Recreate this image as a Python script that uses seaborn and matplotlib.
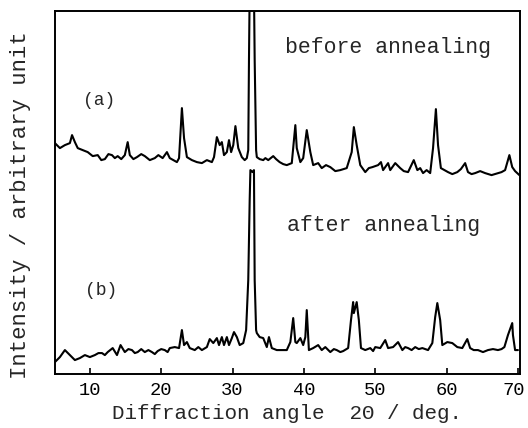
"""XRD patterns before / after annealing, redrawn from a scanned figure."""

import matplotlib
matplotlib.use("Agg")
import matplotlib.pyplot as plt
import matplotlib.transforms as mtransforms
import pandas as pd
import seaborn as sns

# ── Data (2θ in deg., intensity in arbitrary units) ──
angle_a = [5.1, 5.8, 6.5, 7.2, 7.5, 7.9, 8.3, 9.0, 9.7, 10.4, 11.1, 11.6, 12.1, 12.6,
           13.1, 13.5, 13.9, 14.4, 14.9, 15.3, 15.6, 16.1, 16.6, 17.2, 17.7, 18.4,
           19.1, 19.6, 20.2, 20.8, 21.2, 21.7, 22.2, 22.5, 22.9, 23.2, 23.6, 24.3,
           25.0, 25.7, 26.4, 27.1, 27.4, 27.8, 28.2, 28.5, 28.8, 29.2, 29.5, 29.8,
           30.1, 30.4, 30.8, 31.3, 31.7, 32.0, 32.2, 32.3, 32.4, 33.0, 33.1, 33.3,
           33.4, 33.8, 34.3, 34.6, 35.0, 35.7, 36.1, 36.6, 37.1, 37.6, 38.3, 38.8,
           39.0, 39.5, 39.9, 40.4, 40.9, 41.3, 42.0, 42.5, 43.1, 43.7, 44.4, 45.1,
           46.0, 46.7, 47.0, 47.4, 47.9, 48.6, 49.1, 49.6, 50.4, 50.8, 51.1, 51.8,
           52.1, 52.8, 53.5, 54.0, 54.6, 55.4, 55.9, 56.3, 56.7, 57.2, 57.7, 58.1,
           58.5, 58.8, 59.2, 59.7, 60.2, 60.8, 61.5, 62.0, 62.6, 63.0, 63.5, 64.0,
           64.7, 65.4, 66.3, 67.2, 67.7, 68.2, 68.8, 69.2, 69.6, 69.9, 70.2]
inten_a = [231, 226, 229, 231, 239, 232, 226, 224, 222, 218, 219, 214, 215, 220,
           219, 216, 218, 215, 219, 232, 219, 215, 217, 220, 218, 214,
           216, 219, 216, 222, 216, 214, 212, 216, 266, 236, 217, 214,
           212, 211, 214, 212, 217, 237, 229, 232, 219, 222, 234, 222,
           229, 248, 226, 217, 214, 216, 224, 314, 384, 384, 314, 224,
           217, 215, 214, 216, 214, 218, 215, 212, 210, 209, 211, 249,
           226, 212, 216, 244, 222, 209, 211, 206, 209, 207, 203, 204,
           206, 222, 247, 229, 209, 202, 206, 207, 209, 212, 204, 211,
           204, 211, 206, 203, 202, 214, 204, 206, 201, 204, 201, 226,
           265, 229, 206, 204, 202, 200, 202, 205, 211, 202, 200, 201,
           203, 201, 199, 201, 202, 204, 219, 207, 203, 201, 199]

angle_b = [5.1, 5.8, 6.5, 7.2, 7.9, 8.6, 9.3, 10.0, 10.7, 11.2, 11.7, 12.1, 12.5,
           13.2, 13.8, 14.3, 14.9, 15.4, 15.9, 16.3, 16.7, 17.2, 17.7, 18.2, 18.7,
           19.1, 19.5, 20.0, 20.5, 20.9, 21.2, 21.9, 22.5, 22.9, 23.2, 23.6, 24.0,
           24.7, 25.2, 25.7, 26.4, 26.8, 27.3, 27.8, 28.1, 28.5, 28.8, 29.2, 29.5,
           29.9, 30.2, 30.6, 31.0, 31.5, 31.9, 32.2, 32.4, 32.5, 32.8, 33.0, 33.1,
           33.3, 33.4, 33.8, 34.3, 34.8, 35.1, 35.5, 36.2, 36.9, 37.6, 38.1, 38.5,
           38.8, 39.0, 39.5, 39.9, 40.2, 40.4, 40.7, 41.3, 42.0, 42.5, 43.0, 43.7,
           44.2, 44.6, 45.1, 45.5, 46.2, 46.6, 46.9, 47.0, 47.4, 47.7, 48.0, 48.6,
           49.3, 49.7, 50.0, 50.7, 51.4, 51.8, 52.5, 53.2, 53.8, 54.2, 54.6, 55.1,
           55.6, 56.1, 56.6, 57.4, 58.0, 58.4, 58.7, 59.1, 59.4, 60.1, 60.8, 61.5,
           62.2, 62.9, 63.3, 63.8, 64.4, 65.1, 65.8, 66.5, 67.2, 67.7, 68.1, 68.6,
           69.2, 69.3, 69.6, 70.0]
inten_b = [12, 17, 24, 19, 14, 16, 19, 17, 19, 21, 21, 19, 22,
           26, 19, 29, 22, 25, 24, 21, 22, 25, 22, 24, 22,
           20, 23, 25, 24, 22, 26, 27, 26, 44, 29, 32, 26,
           24, 27, 24, 27, 35, 31, 36, 29, 37, 29, 37, 29,
           36, 42, 37, 29, 31, 44, 94, 174, 204, 202, 204, 94,
           44, 41, 37, 36, 27, 37, 26, 24, 24, 24, 32, 56,
           32, 31, 36, 29, 37, 64, 24, 26, 29, 24, 27, 22,
           25, 24, 22, 23, 26, 54, 72, 61, 72, 54, 26, 24,
           26, 23, 27, 26, 34, 26, 27, 32, 24, 27, 26, 24,
           27, 25, 26, 24, 31, 57, 71, 54, 29, 32, 31, 27,
           26, 35, 26, 24, 24, 22, 24, 25, 24, 25, 27, 39,
           51, 39, 24, 24]

x_ticks = [10, 20, 30, 40, 50, 60, 70]

df_a = pd.DataFrame({"angle": angle_a, "intensity": inten_a})
df_b = pd.DataFrame({"angle": angle_b, "intensity": inten_b})

sns.set_style("white")
plt.rcParams["font.family"] = ["Liberation Mono", "DejaVu Sans Mono"]

fig = plt.figure(figsize=(5.28, 4.28), dpi=100)
ax = fig.add_axes([0.104, 0.126, 0.881, 0.848])

for df in (df_a, df_b):
    sns.lineplot(data=df, x="angle", y="intensity", ax=ax, color="black",
                 linewidth=1.5, estimator=None, sort=False)

ax.set_xlim(5.1, 70.3)
ax.set_ylim(0, 363)
ax.set_yticks([])
ax.set_xticks(x_ticks)
ax.set_xticklabels([str(t) for t in x_ticks], fontsize=13.5)
ax.tick_params(axis="x", direction="in", length=4, width=1.2, pad=6,
               bottom=True, top=False, colors="black")
# the last label sits right at the figure edge: nudge it inwards a little
last = ax.get_xticklabels()[-1]
last.set_transform(last.get_transform() +
                   mtransforms.ScaledTranslation(-4 / 100, 0, fig.dpi_scale_trans))
for sp in ax.spines.values():
    sp.set_visible(True)
    sp.set_color("black")
    sp.set_linewidth(1.4)

ax.set_xlabel("Diffraction angle  2\u0398 / deg.", fontsize=15, labelpad=3)
ax.set_ylabel("Intensity / arbitrary unit", fontsize=16)
ax.yaxis.set_label_coords(-0.052, 0.465)

ax.text(37.3, 327, "before annealing", fontsize=15.5, va="center")
ax.text(37.6, 149, "after annealing", fontsize=15.5, va="center")
ax.text(9.0, 274, "(a)", fontsize=13, va="center")
ax.text(9.3, 84, "(b)", fontsize=13, va="center")

fig.savefig("out.png", dpi=100)
plt.close(fig)
